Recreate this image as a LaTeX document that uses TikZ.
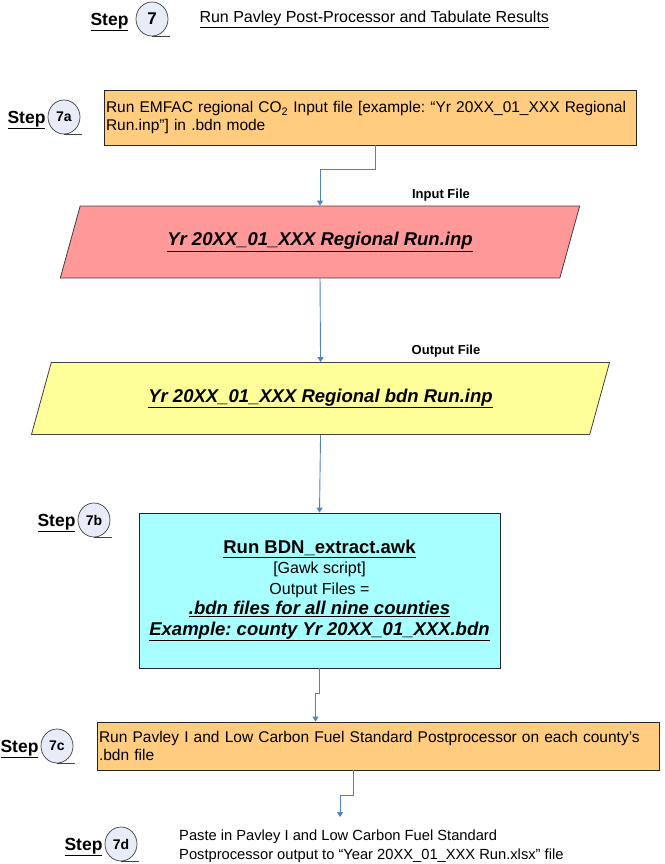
\documentclass[tikz,border=0pt]{standalone}
\usepackage{fontspec}
\setmainfont{Liberation Sans}
\usetikzlibrary{positioning,shapes.geometric,arrows.meta,calc}
\frenchspacing

\definecolor{boxorange}{HTML}{FFCC80}
\definecolor{filepink}{HTML}{FF9999}
\definecolor{fileyellow}{HTML}{FFFF99}
\definecolor{awkcyan}{HTML}{A8FFFF}
\definecolor{stepfill}{HTML}{E8ECF8}
\definecolor{connblue}{HTML}{4F81BD}

\begin{document}
\begin{tikzpicture}[x=1pt, y=-1pt,
    procbox/.style={rectangle, draw=black!85, line width=0.8pt, fill=boxorange, align=left, inner xsep=2pt, font=\fontsize{15.5}{18}\selectfont},
    filebox/.style={trapezium, trapezium left angle=63.5, trapezium right angle=116.5, trapezium stretches=true, draw=black!75, line width=0.8pt, minimum height=72pt, font=\fontsize{18.5}{20}\selectfont\bfseries\itshape},
    stepno/.style={ellipse, draw=black!75, line width=0.7pt, fill=stepfill, minimum width=32pt, minimum height=34pt, inner sep=0pt, font=\fontsize{14}{14}\selectfont\bfseries},
    steplbl/.style={font=\fontsize{17.5}{18}\selectfont\bfseries, inner sep=1pt, yshift=-3pt},
    lbl/.style={font=\fontsize{13}{13}\selectfont\bfseries},
    conn/.style={-{Triangle[length=5pt,width=6pt]}, draw=connblue, line width=0.9pt}
]
    \useasboundingbox (0,0) rectangle (664,864);

    % step 7
    \node[stepno, font=\fontsize{17}{17}\selectfont\bfseries] (s7) at (152,19) {7};
    \node[steplbl, left=6pt of s7] (s7lbl) {\underline{Step}};
    \node[anchor=west, font=\fontsize{16}{18}\selectfont] (title) at (196,19) {\underline{Run Pavley Post-Processor and Tabulate Results}};

    % step 7a
    \node[procbox, text width=528pt, minimum height=55pt] (boxa) at (370,117.5) {Run EMFAC regional CO\textsubscript{2} Input file [example: “Yr 20XX\_01\_XXX Regional\\Run.inp”] in .bdn mode};
    \node[stepno] (s7a) at (64,117) {7a};
    \node[steplbl, left=1pt of s7a] (s7albl) {\underline{Step}};

    \node[filebox, fill=filepink, minimum width=522pt] (inpf) at (320,242) {\underline{Yr 20XX\_01\_XXX Regional Run.inp}};
    \node[lbl] (inlbl) at (441,195) {Input File};

    \node[filebox, fill=fileyellow, minimum width=581pt] (bdnf) at (320.5,398.5) {\underline{Yr 20XX\_01\_XXX Regional bdn Run.inp}};
    \node[lbl] (outlbl) at (446,351) {Output File};

    % step 7b
    \node[rectangle, draw=black!85, line width=0.8pt, fill=awkcyan, minimum width=361pt, minimum height=155pt, align=center, font=\fontsize{16}{20.5}\selectfont] (awk) at (319.5,590.5)
        {{\fontsize{18.5}{20.5}\selectfont\bfseries\underline{Run BDN\_extract.awk}}\\{[Gawk script]}\\Output Files =\\
         {\fontsize{18.5}{20.5}\selectfont\bfseries\itshape\underline{.bdn files for all nine counties}}\\
         {\fontsize{18.5}{20.5}\selectfont\bfseries\itshape\underline{Example: county Yr 20XX\_01\_XXX.bdn}}};
    \node[stepno] (s7b) at (94,520) {7b};
    \node[steplbl, left=1pt of s7b] (s7blbl) {\underline{Step}};

    % step 7c
    \node[procbox, text width=558pt, minimum height=48pt] (boxc) at (378,746) {Run Pavley I and Low Carbon Fuel Standard Postprocessor on each county’s\\.bdn file};
    \node[stepno] (s7c) at (57,746) {7c};
    \node[steplbl, left=1pt of s7c] (s7clbl) {\underline{Step}};

    % step 7d
    \node[stepno] (s7d) at (121,844) {7d};
    \node[steplbl, left=1pt of s7d] (s7dlbl) {\underline{Step}};
    \node[anchor=west, align=left, inner sep=0pt, font=\fontsize{14.7}{18.5}\selectfont] (paste) at (179,846) {Paste in Pavley I and Low Carbon Fuel Standard\\Postprocessor output to “Year 20XX\_01\_XXX Run.xlsx” file};
    \coordinate (pastein) at (340,817);

    \foreach \s in {s7,s7a,s7b,s7c,s7d}
        \draw[black!75, line width=0.7pt] (\s.south) -- ++(18,0);

    \draw[conn] ($(boxa.south)+(5,0)$) -- ++(0,24) -| (inpf.north);
    \draw[conn] (inpf.south) -- (bdnf.north);
    \draw[conn] (bdnf.south) -- (awk.north);
    \draw[conn] (awk.south) -- ++(0,25) -| ($(awk.south |- boxc.north)+(-4,0)$);
    \draw[conn] ($(boxc.south)+(-25,0)$) -- ++(0,25) -| (pastein);
\end{tikzpicture}
\end{document}
